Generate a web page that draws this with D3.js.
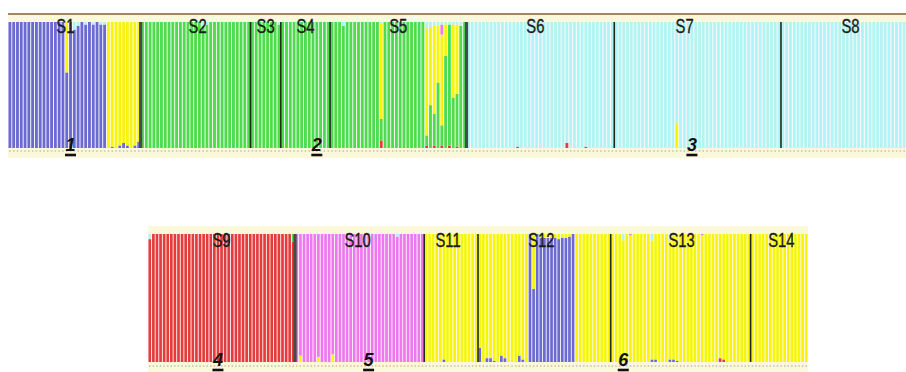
<!DOCTYPE html>
<html><head><meta charset="utf-8">
<script src="https://cdn.jsdelivr.net/npm/d3@7"></script>
<style>body{margin:0;background:#fff}svg{display:block}</style>
</head><body><svg id="c" width="906" height="372"></svg>
<script>
// ---------------- DATA ----------------
const clusters = ["1","2","3","4","5","6"];
const clusterColors = ["#6a6ad2","#4cdc4c","#b2f4f4","#e43c3c","#ef78ef","#f7f50c"];
const stackOrder = ["4","1","2","6","5","3"];   // bottom -> top
const populations = ["S1","S2","S3","S4","S5","S6","S7","S8","S9","S10","S11","S12","S13","S14"];
const topPopulations = ["S1","S2","S3","S4","S5","S6","S7","S8"];
const bottomPopulations = ["S9","S10","S11","S12","S13","S14"];
// runs of individuals per population (aligned with populations): [dominant cluster, count]
const popRuns = [
  [["1",26],["6",9]],
  [["2",29]],
  [["2",8]],
  [["2",13]],
  [["2",36]],
  [["3",39]],
  [["3",44]],
  [["3",33]],
  [["4",41]],
  [["5",36]],
  [["6",15]],
  [["6",14],["1",13],["6",10]],
  [["6",39]],
  [["6",16]]
];
// admixed individuals: [population, index in population, non-dominant memberships]
const admixed = [
  ["S1",15,{"6":0.40}],
  ["S1",17,{"3":0.06}],
  ["S1",18,{"3":0.03}],
  ["S1",20,{"3":0.02}],
  ["S1",22,{"3":0.02}],
  ["S1",24,{"3":0.02}],
  ["S1",25,{"3":0.02}],
  ["S1",27,{"1":0.01}],
  ["S1",29,{"1":0.02}],
  ["S1",30,{"1":0.04}],
  ["S1",31,{"1":0.02}],
  ["S1",33,{"1":0.02}],
  ["S1",34,{"1":0.05}],
  ["S2",16,{"3":0.03}],
  ["S2",17,{"3":0.02}],
  ["S3",7,{"3":0.02}],
  ["S5",3,{"3":0.03}],
  ["S5",13,{"6":0.76,"4":0.06,"3":0.01}],
  ["S5",25,{"3":0.05,"6":0.85,"4":0.02}],
  ["S5",26,{"3":0.04,"6":0.62}],
  ["S5",27,{"3":0.03,"6":0.70,"4":0.02}],
  ["S5",28,{"3":0.03,"6":0.45}],
  ["S5",29,{"3":0.02,"5":0.08,"6":0.72,"4":0.02}],
  ["S5",30,{"3":0.02,"6":0.25}],
  ["S5",31,{"3":0.02,"4":0.02}],
  ["S5",32,{"3":0.02,"6":0.58}],
  ["S5",33,{"3":0.02,"6":0.55,"4":0.01}],
  ["S5",34,{"3":0.03}],
  ["S6",13,{"4":0.01}],
  ["S6",26,{"4":0.04}],
  ["S6",31,{"4":0.01}],
  ["S7",16,{"6":0.20}],
  ["S9",0,{"3":0.04}],
  ["S9",40,{"2":0.06}],
  ["S10",1,{"6":0.05}],
  ["S10",6,{"6":0.04}],
  ["S10",10,{"6":0.06}],
  ["S10",28,{"3":0.02}],
  ["S11",5,{"1":0.02}],
  ["S12",0,{"1":0.11}],
  ["S12",2,{"1":0.03}],
  ["S12",3,{"1":0.03}],
  ["S12",4,{"1":0.01}],
  ["S12",6,{"1":0.05}],
  ["S12",7,{"1":0.03}],
  ["S12",11,{"1":0.05}],
  ["S12",12,{"1":0.02}],
  ["S12",15,{"6":0.43}],
  ["S12",17,{"6":0.03}],
  ["S12",18,{"6":0.03}],
  ["S12",19,{"6":0.03}],
  ["S12",20,{"6":0.03}],
  ["S12",21,{"6":0.03}],
  ["S12",22,{"6":0.04}],
  ["S12",23,{"6":0.03}],
  ["S12",24,{"6":0.03}],
  ["S12",25,{"6":0.02}],
  ["S13",3,{"3":0.05}],
  ["S13",5,{"5":0.01}],
  ["S13",11,{"3":0.05,"1":0.02}],
  ["S13",12,{"1":0.02}],
  ["S13",16,{"3":0.05,"1":0.02}],
  ["S13",17,{"1":0.02}],
  ["S13",18,{"1":0.01}],
  ["S13",25,{"5":0.01}],
  ["S13",30,{"4":0.03}],
  ["S13",31,{"4":0.02}]
];
// cluster number labels: [cluster, population, anchor individual]
const clusterMarks = [["1","S1",16],["2","S4",9],["3","S7",20],["4","S9",19],["5","S10",20],["6","S13",3]];
// populations preceded by a thick (grey) separator
const thickSeparators = ["S2","S6","S10"];

// ---------------- LAYOUT ----------------
const labelShift = {S1:-9,S2:2,S6:-5,S7:-13,S8:7,S10:-2,S11:-3,S12:-3,S13:1,S14:2};
const panels = [
  {pops: topPopulations, x0: 8, x1: 906, yTop: 22, yBot: 148, creamTop: 14, creamBot: 158,
   border: true, dotsY: 151, labelY: 33, numY: 151, ulY: 155},
  {pops: bottomPopulations, x0: 148, x1: 808, yTop: 234, yBot: 362, creamTop: 226, creamBot: 372,
   border: false, dotsY: 366, labelY: 247, numY: 366, ulY: 370}
];
const color = d3.scaleOrdinal().domain(clusters).range(clusterColors);
const svg = d3.select("#c");

function buildIndividuals(pops) {
  const inds = [];
  pops.forEach(p => {
    const pi = populations.indexOf(p);
    let k = 0;
    popRuns[pi].forEach(([c, n]) => {
      for (let i = 0; i < n; i++) {
        const d = {id: p + "_" + k, pop: p, idx: k, dom: c};
        clusters.forEach(cc => d[cc] = 0);
        d[c] = 1;
        inds.push(d); k++;
      }
    });
  });
  admixed.forEach(([p, i, vals]) => {
    const d = inds.find(e => e.pop === p && e.idx === i);
    if (!d) return;
    let s = 0;
    for (const c in vals) { d[c] = vals[c]; s += vals[c]; }
    d[d.dom] = Math.max(0, 1 - s);
  });
  return inds;
}

panels.forEach(P => {
  const inds = buildIndividuals(P.pops);
  const x = d3.scaleBand().domain(inds.map(d => d.id)).range([P.x0, P.x1])
    .paddingInner(0.25).paddingOuter(0.125);
  const y = d3.scaleLinear().domain([0, 1]).range([P.yBot, P.yTop]);
  const g = svg.append("g");

  g.append("rect").attr("x", P.x0).attr("y", P.creamTop).attr("width", P.x1 - P.x0)
    .attr("height", P.creamBot - P.creamTop).attr("fill", "#fbf8dc");
  if (P.border) g.append("line").attr("x1", P.x0).attr("x2", P.x1).attr("y1", P.creamTop).attr("y2", P.creamTop)
    .attr("stroke", "#8a5a3a").attr("stroke-width", 1.6);
  g.append("rect").attr("x", P.x0).attr("y", P.yTop).attr("width", P.x1 - P.x0)
    .attr("height", P.yBot - P.yTop).attr("fill", "#fdfafa");

  const series = d3.stack().keys(stackOrder)(inds);
  g.selectAll("g.s").data(series).join("g").attr("class", "s")
    .attr("fill", s => color(s.key))
    .selectAll("rect").data(s => s.filter(d => d[1] - d[0] > 0.0005)).join("rect")
    .attr("x", d => x(d.data.id)).attr("width", x.bandwidth())
    .attr("y", d => y(d[1])).attr("height", d => y(d[0]) - y(d[1]));

  // dotted row
  g.selectAll("rect.dot").data(inds).join("rect").attr("class", "dot")
    .attr("x", d => x(d.id) + x.bandwidth() / 2 - 0.75).attr("y", P.dotsY - 0.5)
    .attr("width", 1.5).attr("height", 1).attr("fill", "#a9a58c");

  // separators
  P.pops.slice(1).forEach(p => {
    const first = inds.find(d => d.pop === p);
    const sx = x(first.id) - x.step() * 0.125;
    const thick = thickSeparators.includes(p);
    g.append("line").attr("x1", sx).attr("x2", sx).attr("y1", P.yTop).attr("y2", P.yBot)
      .attr("stroke", thick ? "#4a4a4a" : "#1c2a1c").attr("stroke-width", thick ? 3.2 : 1.6);
  });

  // population labels (condensed)
  P.pops.forEach(p => {
    const members = inds.filter(d => d.pop === p);
    const cx = (x(members[0].id) + x(members[members.length - 1].id) + x.bandwidth()) / 2 + (labelShift[p] || 0);
    g.append("text").attr("transform", `translate(${cx},${P.labelY}) scale(0.74,1)`)
      .attr("text-anchor", "middle")
      .attr("font-family", "'Liberation Sans',Arial,sans-serif")
      .attr("font-size", 20).attr("fill", "#1a1a1a")
      .attr("stroke", "#1a1a1a").attr("stroke-width", 0.35).text(p);
  });

  // cluster numbers
  clusterMarks.filter(m => P.pops.includes(m[1])).forEach(([k, p, i]) => {
    const d = inds.find(e => e.pop === p && e.idx === i);
    const cx = x(d.id) + x.bandwidth() / 2;
    g.append("text").attr("x", cx).attr("y", P.numY).attr("text-anchor", "middle")
      .attr("font-family", "'Liberation Sans',Arial,sans-serif").attr("font-weight", "bold")
      .attr("font-style", "italic").attr("font-size", 18).attr("fill", "#111").text(k);
    g.append("line").attr("x1", cx - 5.5).attr("x2", cx + 5.5).attr("y1", P.ulY).attr("y2", P.ulY)
      .attr("stroke", "#111").attr("stroke-width", 2.6);
  });
});
</script></body></html>
